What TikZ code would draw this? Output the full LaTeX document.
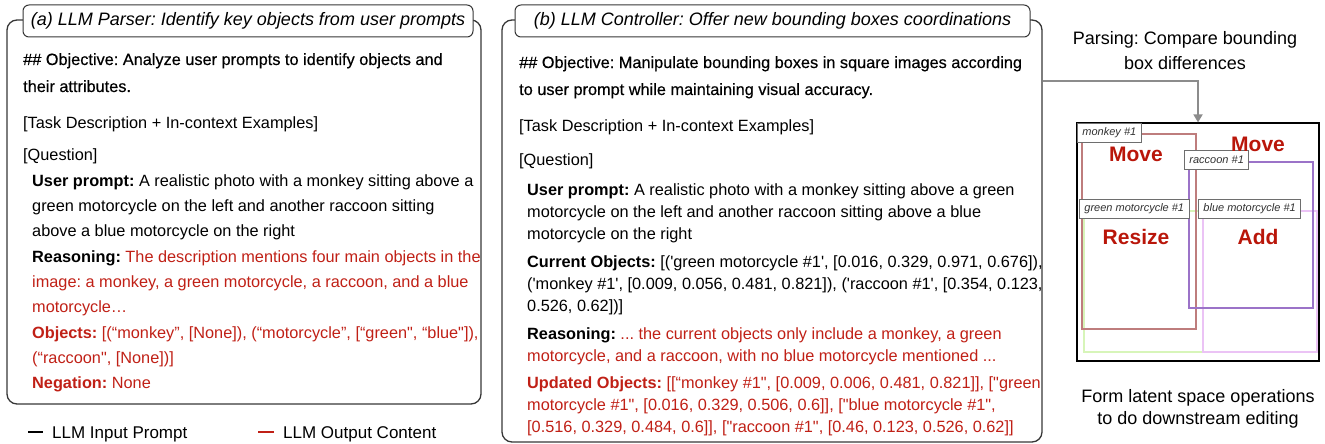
\documentclass[tikz,border=0pt]{standalone}
\usepackage{fontspec}
\setmainfont{Liberation Sans}[Ligatures=TeXOff]
\newfontfamily\medfont{Liberation Sans}[Ligatures=TeXOff,FakeBold=0.4]
\usetikzlibrary{arrows.meta}
\frenchspacing
\definecolor{outred}{RGB}{192,32,22}
\definecolor{opred}{RGB}{185,22,10}
\definecolor{frame}{RGB}{55,55,55}
\definecolor{arrowgray}{RGB}{140,140,140}
\definecolor{monkeyc}{RGB}{190,125,125}
\definecolor{raccoonc}{RGB}{155,115,200}
\definecolor{greenc}{RGB}{215,245,185}
\definecolor{bluec}{RGB}{235,195,245}
\definecolor{lblgray}{RGB}{110,110,110}
\definecolor{lbltext}{RGB}{50,50,50}
\tikzset{
  panel/.style={draw=frame, line width=1.3pt, rounded corners=10pt, inner sep=0pt},
  titlebox/.style={draw=frame, fill=white, line width=1pt, rounded corners=6pt, inner sep=0pt,
    font=\fontsize{18}{20}\selectfont\itshape},
  ln/.style={anchor=base west, inner sep=0pt, font=\fontsize{16.3}{18}\selectfont},
  rt/.style={inner sep=0pt, font=\fontsize{18}{20}\selectfont},
  lbl/.style={draw=lblgray, fill=white, line width=0.9pt, anchor=north west, inner xsep=5pt,
    inner ysep=0pt, minimum height=19pt, text=lbltext, font=\fontsize{11}{12}\selectfont\itshape},
  op/.style={inner sep=0pt, text=opred, font=\fontsize{21}{24}\selectfont\bfseries},
  arr/.style={draw=arrowgray, line width=1.8pt, -{Triangle[length=8pt,width=9pt]}}
}
\begin{document}
\begin{tikzpicture}[x=1pt,y=-1pt]
\useasboundingbox (0,0) rectangle (1325,444);
% panels
\node[panel, minimum width=474pt, minimum height=384pt] (pa) at (244,212) {};
\node[panel, minimum width=540pt, minimum height=422pt] (pb) at (772,231) {};
\node[titlebox, minimum width=450pt, minimum height=32pt] (ta) at (248,21) {(a) LLM Parser: Identify key objects from user prompts};
\node[titlebox, minimum width=515pt, minimum height=32pt] (tb) at (772.5,21) {(b) LLM Controller: Offer new bounding boxes coordinations};
% left panel text
\node[ln] (l1) at (23,65) {\medfont \#\# Objective: Analyze user prompts to identify objects and};
\node[ln] (l2) at (23,92) {\medfont their attributes.};
\node[ln] (l3) at (23,128) {[Task Description + In-context Examples]};
\node[ln] (l4) at (23,160) {[Question]};
\node[ln] (l5) at (32,186) {\textbf{User prompt:} A realistic photo with a monkey sitting above a};
\node[ln] (l6) at (32,211) {green motorcycle on the left and another raccoon sitting};
\node[ln] (l7) at (32,236) {above a blue motorcycle on the right};
\node[ln] (l8) at (32,262) {\textbf{Reasoning:} \color{outred}The description mentions four main objects in the};
\node[ln, text=outred] (l9) at (32,287) {image: a monkey, a green motorcycle, a raccoon, and a blue};
\node[ln, text=outred] (l10) at (32,312) {motorcycle…};
\node[ln, text=outred] (l11) at (32,338) {\textbf{Objects:} [(“monkey”, [None]), (“motorcycle”, [“green", “blue"]),};
\node[ln, text=outred] (l12) at (32,363) {(“raccoon", [None])]};
\node[ln, text=outred] (l13) at (32,388) {\textbf{Negation:} None};
% middle panel text
\node[ln] (m1) at (519,68) {\medfont \#\# Objective: Manipulate bounding boxes in square images according};
\node[ln] (m2) at (519,95) {\medfont to user prompt while maintaining visual accuracy.};
\node[ln] (m3) at (519,131) {[Task Description + In-context Examples]};
\node[ln] (m4) at (519,165) {[Question]};
\node[ln] (m5) at (527,195) {\textbf{User prompt:} A realistic photo with a monkey sitting above a green};
\node[ln] (m6) at (527,217) {motorcycle on the left and another raccoon sitting above a blue};
\node[ln] (m7) at (527,239) {motorcycle on the right};
\node[ln] (m8) at (527,267) {\textbf{Current Objects:} [('green motorcycle \#1', [0.016, 0.329, 0.971, 0.676]),};
\node[ln] (m9) at (527,289) {('monkey \#1', [0.009, 0.056, 0.481, 0.821]), ('raccoon \#1', [0.354, 0.123,};
\node[ln] (m10) at (527,311) {0.526, 0.62])]};
\node[ln] (m11) at (527,339) {\textbf{Reasoning:} \color{outred}... the current objects only include a monkey, a green};
\node[ln, text=outred] (m12) at (527,361) {motorcycle, and a raccoon, with no blue motorcycle mentioned ...};
\node[ln, text=outred] (m13) at (527,388) {\textbf{Updated Objects:} [[“monkey \#1", [0.009, 0.006, 0.481, 0.821]], ["green};
\node[ln, text=outred] (m14) at (527,410) {motorcycle \#1", [0.016, 0.329, 0.506, 0.6]], ["blue motorcycle \#1",};
\node[ln, text=outred] (m15) at (527,432) {[0.516, 0.329, 0.484, 0.6]], ["raccoon \#1", [0.46, 0.123, 0.526, 0.62]]};
% legend
\draw[line width=2.6pt, black] (28,432) -- (43,432);
\node[ln, font=\fontsize{17}{19}\selectfont] (lgin) at (52,438) {LLM Input Prompt};
\draw[line width=2.6pt, outred] (258,432) -- (274,432);
\node[ln, font=\fontsize{17}{19}\selectfont] (lgout) at (283,438) {LLM Output Content};
% right side
\node[rt] (pr1) at (1185,40) {Parsing: Compare bounding};
\node[rt] (pr2) at (1185,63) {box differences};
\node[rt] (fm1) at (1198,398) {Form latent space operations};
\node[rt] (fm2) at (1198,420) {to do downstream editing};
\node[draw=black, line width=1.2pt, minimum width=242pt, minimum height=238pt, inner sep=0pt] (img) at (1198,242) {};
\coordinate (bend) at (1198,81);
\draw[arr] (pb.east |- bend) -| (img.north);
% bounding boxes
\draw[greenc, line width=1.3pt] (1084,211) rectangle (1203,352);
\draw[bluec, line width=1.3pt] (1203,211) rectangle (1317,352);
\draw[monkeyc, line width=1.6pt] (1082,134) rectangle (1196,329);
\draw[raccoonc, line width=1.6pt] (1189,162) rectangle (1313,308);
\node[lbl] (lbm) at (1077,123) {monkey \#1};
\node[lbl] (lbr) at (1184,150) {raccoon \#1};
\node[lbl] (lbg) at (1079,199) {green motorcycle \#1};
\node[lbl] (lbb) at (1198,199) {blue motorcycle \#1};
\node[op] (opm1) at (1136,154) {Move};
\node[op] (opm2) at (1258,144) {Move};
\node[op] (opr) at (1136,237) {Resize};
\node[op] (opa) at (1258,237) {Add};
\end{tikzpicture}
\end{document}
